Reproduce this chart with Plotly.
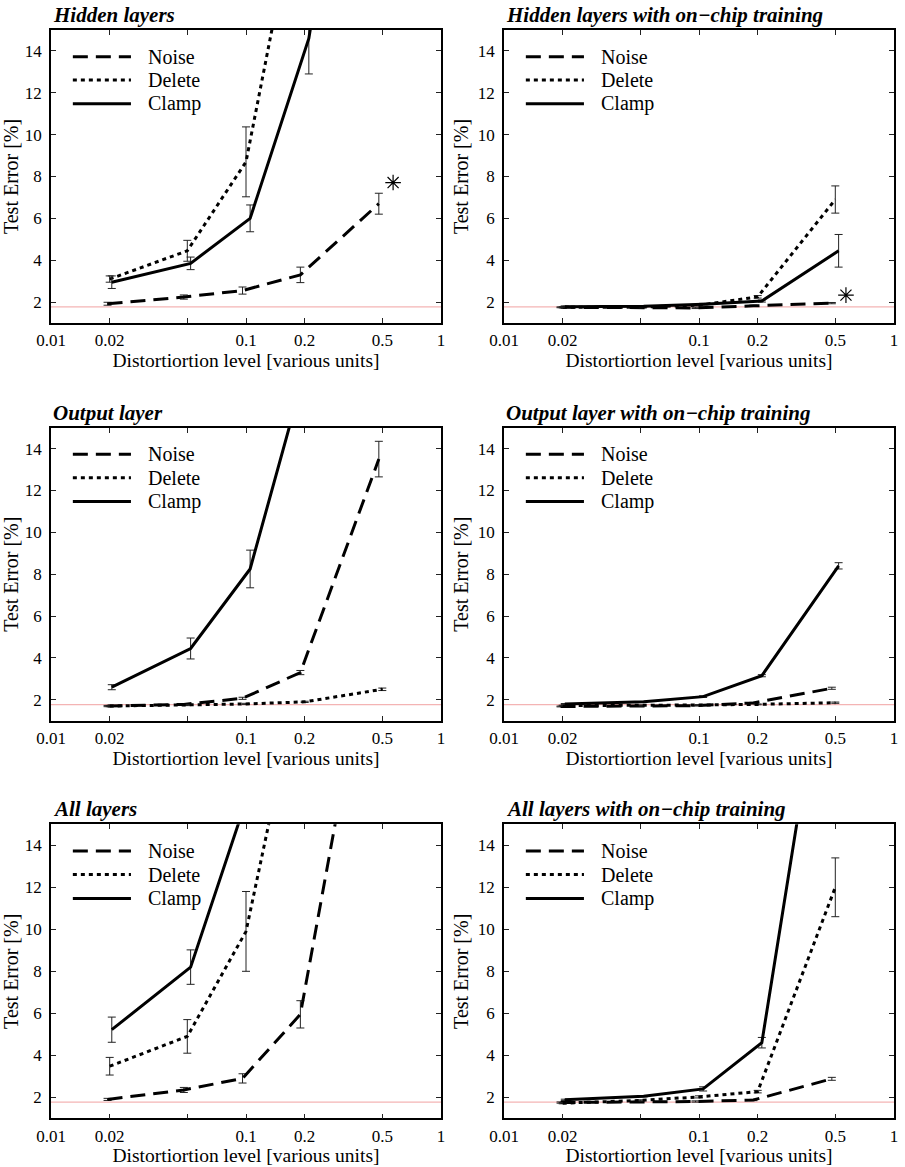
import plotly.graph_objects as go

FONT = "Liberation Serif"

# ---------------- data ----------------
x_tickvals = [0.01, 0.02, 0.05, 0.1, 0.2, 0.5, 1]
x_ticktext = ["0.01", "0.02", "", "0.1", "0.2", "0.5", "1"]
y_tickvals = [2, 4, 6, 8, 10, 12, 14]

series_names = ["Noise", "Delete", "Clamp"]

noise_x = [0.0195, 0.048, 0.096, 0.19, 0.48]
delete_x = [0.02, 0.05, 0.1, 0.2, 0.5]
clamp_x = [0.0205, 0.052, 0.105, 0.21, 0.52]

baseline_error = 1.77

panel_titles = [
    "Hidden layers",
    "Hidden layers with on\u2212chip training",
    "Output layer",
    "Output layer with on\u2212chip training",
    "All layers",
    "All layers with on\u2212chip training",
]

# Hidden layers
hid_noise = [1.92, 2.24, 2.55, 3.3, 6.7]
hid_noise_err = [0.07, 0.1, 0.17, 0.37, 0.5]
hid_delete = [3.1, 4.45, 8.7, 23.0, None]
hid_delete_err = [0.15, 0.5, 1.67, None, None]
hid_clamp = [2.95, 3.85, 6.0, 14.6, 37.0]
hid_clamp_err = [0.3, 0.3, 0.64, 1.7, None]

# Hidden layers with on-chip training
hidc_noise = [1.75, 1.72, 1.72, 1.82, 1.95]
hidc_noise_err = [0.02, 0.02, 0.03, 0.03, 0.03]
hidc_delete = [1.75, 1.76, 1.85, 2.25, 6.9]
hidc_delete_err = [0.03, 0.03, 0.04, 0.06, 0.65]
hidc_clamp = [1.78, 1.8, 1.9, 2.05, 4.45]
hidc_clamp_err = [0.03, 0.03, 0.04, 0.05, 0.78]

# Output layer
out_noise = [1.7, 1.78, 2.07, 3.3, 13.5]
out_noise_err = [0.03, 0.03, 0.05, 0.1, 0.85]
out_delete = [1.7, 1.75, 1.8, 1.9, 2.5]
out_delete_err = [0.03, 0.03, 0.03, 0.03, 0.06]
out_clamp = [2.6, 4.45, 8.25, 18.4, None]
out_clamp_err = [0.12, 0.5, 0.9, None, None]

# Output layer with on-chip training
outc_noise = [1.68, 1.7, 1.72, 1.85, 2.55]
outc_noise_err = [0.02, 0.02, 0.02, 0.03, 0.05]
outc_delete = [1.72, 1.72, 1.75, 1.78, 1.86]
outc_delete_err = [0.02, 0.02, 0.02, 0.02, 0.03]
outc_clamp = [1.8, 1.9, 2.15, 3.15, 8.4]
outc_clamp_err = [0.02, 0.02, 0.04, 0.05, 0.15]

# All layers
all_noise = [1.9, 2.35, 2.9, 5.95, 26.4]
all_noise_err = [0.05, 0.12, 0.22, 0.65, None]
all_delete = [3.48, 4.9, 9.9, 23.1, None]
all_delete_err = [0.42, 0.8, 1.9, None, None]
all_clamp = [5.22, 8.2, 16.7, None, None]
all_clamp_err = [0.6, 0.82, None, None, None]

# All layers with on-chip training
allc_noise = [1.75, 1.78, 1.8, 1.87, 2.88]
allc_noise_err = [0.03, 0.03, 0.03, 0.03, 0.07]
allc_delete = [1.72, 1.85, 2.02, 2.27, 12.0]
allc_delete_err = [0.03, 0.03, 0.05, 0.06, 1.4]
allc_clamp = [1.88, 2.05, 2.4, 4.6, 27.5]
allc_clamp_err = [0.03, 0.03, 0.1, 0.25, None]

# asterisk markers (panel index, x, y)
star_panel = [1, 2]
star_x = [0.568, 0.567]
star_y = [7.71, 2.33]

panels = [
    (hid_noise, hid_noise_err, hid_delete, hid_delete_err, hid_clamp, hid_clamp_err),
    (hidc_noise, hidc_noise_err, hidc_delete, hidc_delete_err, hidc_clamp, hidc_clamp_err),
    (out_noise, out_noise_err, out_delete, out_delete_err, out_clamp, out_clamp_err),
    (outc_noise, outc_noise_err, outc_delete, outc_delete_err, outc_clamp, outc_clamp_err),
    (all_noise, all_noise_err, all_delete, all_delete_err, all_clamp, all_clamp_err),
    (allc_noise, allc_noise_err, allc_delete, allc_delete_err, allc_clamp, allc_clamp_err),
]

# ---------------- layout geometry ----------------
W, H = 905, 1167
col_px = [(51, 441), (504, 894)]
row_px = [(30, 323), (427.7, 720.7), (824.3, 1118.3)]

dash_styles = {"Noise": "15px,8px", "Delete": "4px,4px", "Clamp": "solid"}
series_x = {"Noise": noise_x, "Delete": delete_x, "Clamp": clamp_x}

fig = go.Figure()
layout = dict(
    width=W, height=H,
    margin=dict(l=0, r=0, t=0, b=0, autoexpand=False),
    paper_bgcolor="white", plot_bgcolor="white",
    showlegend=False,
    font=dict(family=FONT, color="black"),
)
annotations = []
shapes = []

for i in range(6):
    n = i + 1
    suf = "" if n == 1 else str(n)
    r, c = divmod(i, 2)
    x0p, x1p = col_px[c]
    y0p, y1p = row_px[r]
    xdom = [x0p / W, x1p / W]
    ydom = [1 - y1p / H, 1 - y0p / H]

    common = dict(
        showline=True, linecolor="black", linewidth=1.6, mirror="allticks",
        ticks="inside", ticklen=5, tickwidth=1, tickcolor="#222",
        showgrid=False, zeroline=False, automargin=False,
        tickfont=dict(family=FONT, size=17, color="black"),
    )
    layout["xaxis" + suf] = dict(
        common, type="log", range=[-2, 0], domain=xdom, anchor="y" + suf,
        tickmode="array", tickvals=x_tickvals, ticktext=x_ticktext,
        ticklabelstandoff=1,
        title=dict(text="Distortiortion level [various units]",
                   font=dict(family=FONT, size=19.5, color="black"), standoff=4),
    )
    layout["yaxis" + suf] = dict(
        common, range=[1, 15], domain=ydom, anchor="x" + suf,
        tickmode="array", tickvals=y_tickvals, ticklabelstandoff=4,
        title=dict(text="Test Error [%]",
                   font=dict(family=FONT, size=20, color="black"), standoff=4),
    )

    xr = "x" + suf
    yr = "y" + suf

    # baseline
    shapes.append(dict(type="line", xref=xr + " domain", yref=yr,
                       x0=0, x1=1, y0=baseline_error, y1=baseline_error,
                       line=dict(color="#f4b4b4", width=1.2), layer="below"))

    vals = panels[i]
    for k, name in enumerate(series_names):
        yv = vals[2 * k]
        ev = vals[2 * k + 1]
        fig.add_trace(go.Scatter(
            x=series_x[name], y=yv, mode="lines", name=name,
            xaxis=xr, yaxis=yr,
            line=dict(color="black", width=3, dash=dash_styles[name]),
            error_y=dict(type="data", array=ev, visible=True,
                         color="#222", thickness=1, width=4),
            connectgaps=False,
        ))

    # legend (drawn inside the panel)
    leg_y = [0.909, 0.829, 0.748]
    for k, name in enumerate(series_names):
        shapes.append(dict(type="line", xref=xr + " domain", yref=yr + " domain",
                           x0=0.056, x1=0.205, y0=leg_y[k], y1=leg_y[k],
                           line=dict(color="black", width=3, dash=dash_styles[name])))
        annotations.append(dict(text=name, xref=xr + " domain", yref=yr + " domain",
                                x=0.243, y=leg_y[k], xanchor="left", yanchor="middle",
                                showarrow=False,
                                font=dict(family=FONT, size=20, color="black")))

    # panel title
    annotations.append(dict(text="<b><i>" + panel_titles[i] + "</i></b>",
                            xref=xr + " domain", yref=yr + " domain",
                            x=0, y=1, xanchor="left", yanchor="bottom", yshift=1,
                            showarrow=False,
                            font=dict(family=FONT, size=21, color="black")))

# asterisks
for p, sx, sy in zip(star_panel, star_x, star_y):
    suf = "" if p == 1 else str(p)
    fig.add_trace(go.Scatter(
        x=[sx], y=[sy], mode="markers", xaxis="x" + suf, yaxis="y" + suf,
        marker=dict(symbol="asterisk-open", size=13, color="black",
                    line=dict(color="black", width=1.2)),
        showlegend=False, cliponaxis=False,
    ))

layout["annotations"] = annotations
layout["shapes"] = shapes
fig.update_layout(**layout)
fig.write_html("out.html", config={"displayModeBar": False},
               post_script="document.body.style.margin='0';")
